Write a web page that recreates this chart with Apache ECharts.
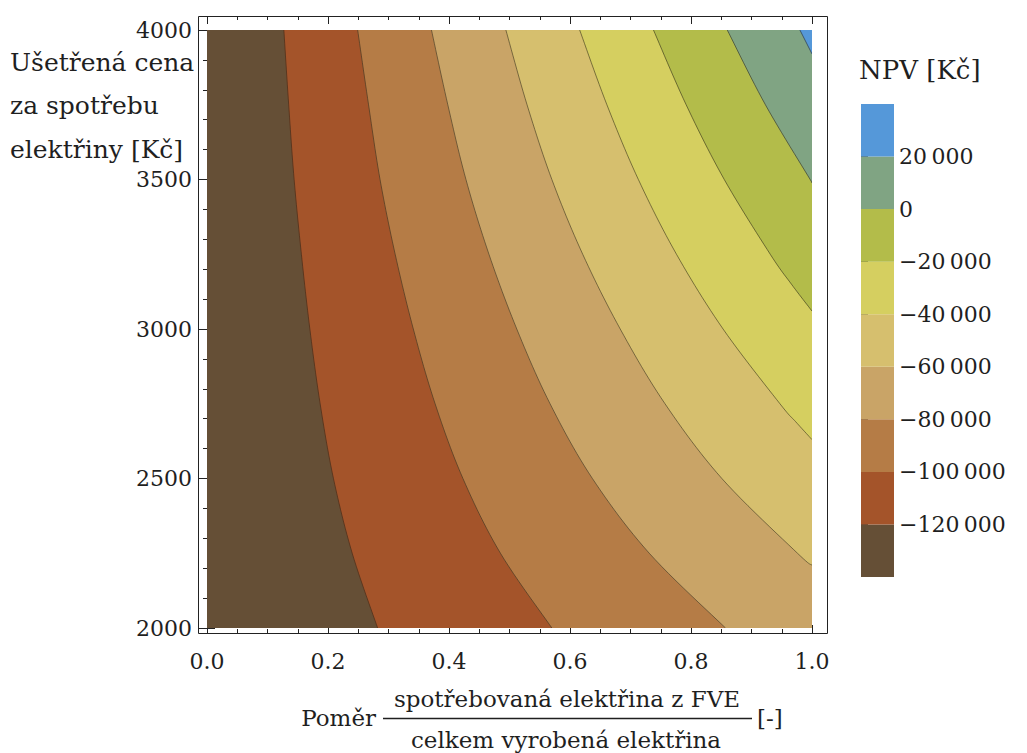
<!DOCTYPE html>
<html>
<head>
<meta charset="utf-8">
<script src="https://cdn.jsdelivr.net/npm/echarts@6/dist/echarts.min.js"></script>
<style>
  html, body { margin: 0; padding: 0; background: #ffffff; }
  #chart { width: 1027px; height: 753px; }
</style>
</head>
<body>
<div id="chart"></div>
<script>
// NPV contour levels [Kč]
const levels = [-120000, -100000, -80000, -60000, -40000, -20000, 0, 20000];
// Fill colour of each band, lowest band (below -120 000) first
const bandColors = ['#654f36', '#a4542a', '#b57c46', '#c9a467', '#d6bf6e', '#d5cf60', '#b3bc4a', '#80a483', '#5598d9'];

// Contour lines as [ratio, saved price] points, from the top edge downwards
const contourM120k = [[0.127, 4000], [0.135, 3750], [0.144, 3500], [0.156, 3250], [0.170, 3000], [0.187, 2750], [0.209, 2500], [0.240, 2250], [0.282, 2000]];
const contourM100k = [[0.249, 4000], [0.267, 3750], [0.286, 3500], [0.311, 3250], [0.341, 3000], [0.377, 2750], [0.423, 2500], [0.485, 2250], [0.570, 2000]];
const contourM80k  = [[0.371, 4000], [0.398, 3750], [0.428, 3500], [0.466, 3250], [0.512, 3000], [0.567, 2750], [0.637, 2500], [0.731, 2250], [0.857, 2000]];
const contourM60k  = [[0.494, 4000], [0.529, 3750], [0.570, 3500], [0.621, 3250], [0.683, 3000], [0.757, 2750], [0.851, 2500], [0.976, 2250], [1.0, 2210]];
const contourM40k  = [[0.616, 4000], [0.661, 3750], [0.713, 3500], [0.776, 3250], [0.853, 3000], [0.947, 2750], [0.973, 2690], [1.0, 2630]];
const contourM20k  = [[0.738, 4000], [0.792, 3750], [0.855, 3500], [0.931, 3250], [0.966, 3150], [1.0, 3060]];
const contourZero  = [[0.860, 4000], [0.923, 3750], [0.997, 3500], [1.0, 3490]];
const contourP20k  = [[0.980, 4000], [1.0, 3920]];
const contours = [contourM120k, contourM100k, contourM80k, contourM60k, contourM40k, contourM20k, contourZero, contourP20k];

// Plotted domain
const xMin = 0, xMax = 1, xStep = 0.2;
const yMin = 2000, yMax = 4000, yStep = 500;

// Colour bar range and text
const barMin = -140000, barMax = 40000;
const yTitleLines = ['Ušetřená cena', 'za spotřebu', 'elektřiny [Kč]'];
const xTitleLead = 'Poměr';
const xTitleNumerator = 'spotřebovaná elektřina z FVE';
const xTitleDenominator = 'celkem vyrobená elektřina';
const xTitleUnit = '[-]';
const barTitle = 'NPV [Kč]';

// Layout of the plot area and its frame
const plot = { left: 207, top: 30, width: 605, height: 598 };
const framePad = { left: 9, right: 15, top: 14, bottom: 5 };
const bar = { left: 861, top: 104, width: 33, height: 473 };

const FONT = 'DejaVu Serif';
const INK = '#1f1f1f';

function fmtBar(v) {
  const s = Math.abs(v).toString();
  const grouped = s.length > 3 ? s.slice(0, s.length - 3) + '\u2009' + s.slice(s.length - 3) : s;
  return (v < 0 ? '\u2212' : '') + grouped;
}

// Smooth curve through pixel points (Catmull-Rom), used only for drawing
function smoothPath(pts, steps) {
  if (pts.length < 3) return pts.slice();
  const out = [];
  for (let i = 0; i < pts.length - 1; i++) {
    const p0 = pts[i - 1] || pts[i], p1 = pts[i], p2 = pts[i + 1], p3 = pts[i + 2] || pts[i + 1];
    for (let s = 0; s < steps; s++) {
      const t = s / steps, t2 = t * t, t3 = t2 * t;
      out.push([0, 1].map(k => 0.5 * ((2 * p1[k]) + (-p0[k] + p2[k]) * t +
        (2 * p0[k] - 5 * p1[k] + 4 * p2[k] - p3[k]) * t2 +
        (-p0[k] + 3 * p1[k] - 3 * p2[k] + p3[k]) * t3)));
    }
  }
  out.push(pts[pts.length - 1]);
  return out;
}

// Each band is the region above its lower contour; later bands are painted on top
function renderBand(params, api) {
  const i = api.value(2);
  const color = bandColors[i];
  if (i === 0) {
    const pts = [[xMin, yMin], [xMax, yMin], [xMax, yMax], [xMin, yMax]].map(p => api.coord(p));
    return { type: 'polygon', shape: { points: pts }, style: { fill: color } };
  }
  const line = contours[i - 1];
  const curve = smoothPath(line.map(p => api.coord(p)), 12);
  const last = line[line.length - 1];
  const closing = [];
  if (last[0] < xMax) closing.push([xMax, yMin]);
  closing.push([xMax, yMax]);
  const area = curve.concat(closing.map(p => api.coord(p)));
  return {
    type: 'group',
    children: [
      { type: 'polygon', shape: { points: area }, style: { fill: color, stroke: color, lineWidth: 0.5 } },
      { type: 'polyline', shape: { points: curve }, style: { stroke: 'rgba(40,32,20,0.6)', lineWidth: 0.9, fill: null } }
    ]
  };
}

// Colour bar cells between consecutive levels
const barEdges = [barMin].concat(levels, [barMax]);
function renderBarCell(params, api) {
  const lo = api.value(1), hi = api.value(2), i = api.value(3);
  const p1 = api.coord([0, hi]);
  const p2 = api.coord([1, lo]);
  return { type: 'rect', shape: { x: p1[0], y: p1[1], width: p2[0] - p1[0], height: p2[1] - p1[1] }, style: { fill: bandColors[i] } };
}

const tickStyle = { color: '#222', width: 1 };
const chart = echarts.init(document.getElementById('chart'), null, { renderer: 'svg' });

chart.setOption({
  animation: false,
  backgroundColor: '#ffffff',
  grid: [
    { left: plot.left, top: plot.top, width: plot.width, height: plot.height },
    { left: bar.left, top: bar.top, width: bar.width, height: bar.height }
  ],
  xAxis: [
    {
      type: 'value', gridIndex: 0, position: 'bottom', min: xMin, max: xMax, interval: xStep, offset: framePad.bottom,
      axisLine: { show: false }, splitLine: { show: false },
      axisTick: { inside: true, length: 8, lineStyle: tickStyle },
      minorTick: { show: true, splitNumber: 4, length: 4, lineStyle: tickStyle },
      axisLabel: { margin: 17, fontFamily: FONT, fontSize: 22, color: INK, formatter: v => v.toFixed(1) }
    },
    {
      type: 'value', gridIndex: 0, position: 'top', min: xMin, max: xMax, interval: xStep, offset: framePad.top,
      axisLine: { show: false }, splitLine: { show: false },
      axisTick: { inside: true, length: 8, lineStyle: tickStyle },
      minorTick: { show: true, splitNumber: 4, length: 4, lineStyle: tickStyle },
      axisLabel: { show: false }
    },
    { type: 'value', gridIndex: 1, min: 0, max: 1, show: false }
  ],
  yAxis: [
    {
      type: 'value', gridIndex: 0, position: 'left', min: yMin, max: yMax, interval: yStep, offset: framePad.left,
      axisLine: { show: false }, splitLine: { show: false },
      axisTick: { inside: true, length: 8, lineStyle: tickStyle },
      minorTick: { show: true, splitNumber: 5, length: 4, lineStyle: tickStyle },
      axisLabel: { margin: 6, fontFamily: FONT, fontSize: 22, color: INK, formatter: v => String(v) }
    },
    {
      type: 'value', gridIndex: 0, position: 'right', min: yMin, max: yMax, interval: yStep, offset: framePad.right,
      axisLine: { show: false }, splitLine: { show: false },
      axisTick: { inside: true, length: 8, lineStyle: tickStyle },
      minorTick: { show: true, splitNumber: 5, length: 4, lineStyle: tickStyle },
      axisLabel: { show: false }
    },
    {
      type: 'value', gridIndex: 1, position: 'right', min: barMin, max: barMax,
      axisLine: { show: false }, splitLine: { show: false },
      axisTick: { show: true, inside: false, length: 7, customValues: levels, lineStyle: { color: '#444', width: 1 } },
      axisLabel: { margin: 5, fontFamily: FONT, fontSize: 22, color: INK, customValues: levels, formatter: fmtBar }
    }
  ],
  series: [
    {
      type: 'custom', xAxisIndex: 0, yAxisIndex: 0, clip: true,
      renderItem: renderBand,
      encode: { x: 0, y: 1 },
      data: bandColors.map((c, i) => [xMin, yMin, i])
    },
    {
      type: 'custom', xAxisIndex: 2, yAxisIndex: 2,
      renderItem: renderBarCell,
      encode: { x: 0, y: 1 },
      data: bandColors.map((c, i) => [0, barEdges[i], barEdges[i + 1], i])
    }
  ],
  graphic: [
    // frame around the plot
    {
      type: 'rect', silent: true, z: 10,
      shape: {
        x: plot.left - framePad.left + 0.5, y: plot.top - framePad.top + 0.5,
        width: plot.width + framePad.left + framePad.right, height: plot.height + framePad.top + framePad.bottom
      },
      style: { fill: null, stroke: '#222', lineWidth: 1 }
    },
    // y axis title
    ...yTitleLines.map((t, k) => ({
      type: 'text', x: 10, y: 62 + k * 43.5,
      style: { text: t, fill: INK, font: '25px "' + FONT + '"', align: 'left', verticalAlign: 'middle' }
    })),
    // x axis title with a fraction
    { type: 'text', x: 376, y: 718, style: { text: xTitleLead, fill: INK, font: '23px "' + FONT + '"', align: 'right', verticalAlign: 'middle' } },
    { type: 'text', x: 567, y: 699, style: { text: xTitleNumerator, fill: INK, font: '23px "' + FONT + '"', align: 'center', verticalAlign: 'middle' } },
    { type: 'line', shape: { x1: 383, y1: 718.5, x2: 752, y2: 718.5 }, style: { stroke: INK, lineWidth: 1.3 } },
    { type: 'text', x: 566, y: 740, style: { text: xTitleDenominator, fill: INK, font: '23px "' + FONT + '"', align: 'center', verticalAlign: 'middle' } },
    { type: 'text', x: 757, y: 718, style: { text: xTitleUnit, fill: INK, font: '23px "' + FONT + '"', align: 'left', verticalAlign: 'middle' } },
    // colour bar title
    { type: 'text', x: 859, y: 70, style: { text: barTitle, fill: INK, font: '26px "' + FONT + '"', align: 'left', verticalAlign: 'middle' } }
  ]
});
</script>
</body>
</html>
